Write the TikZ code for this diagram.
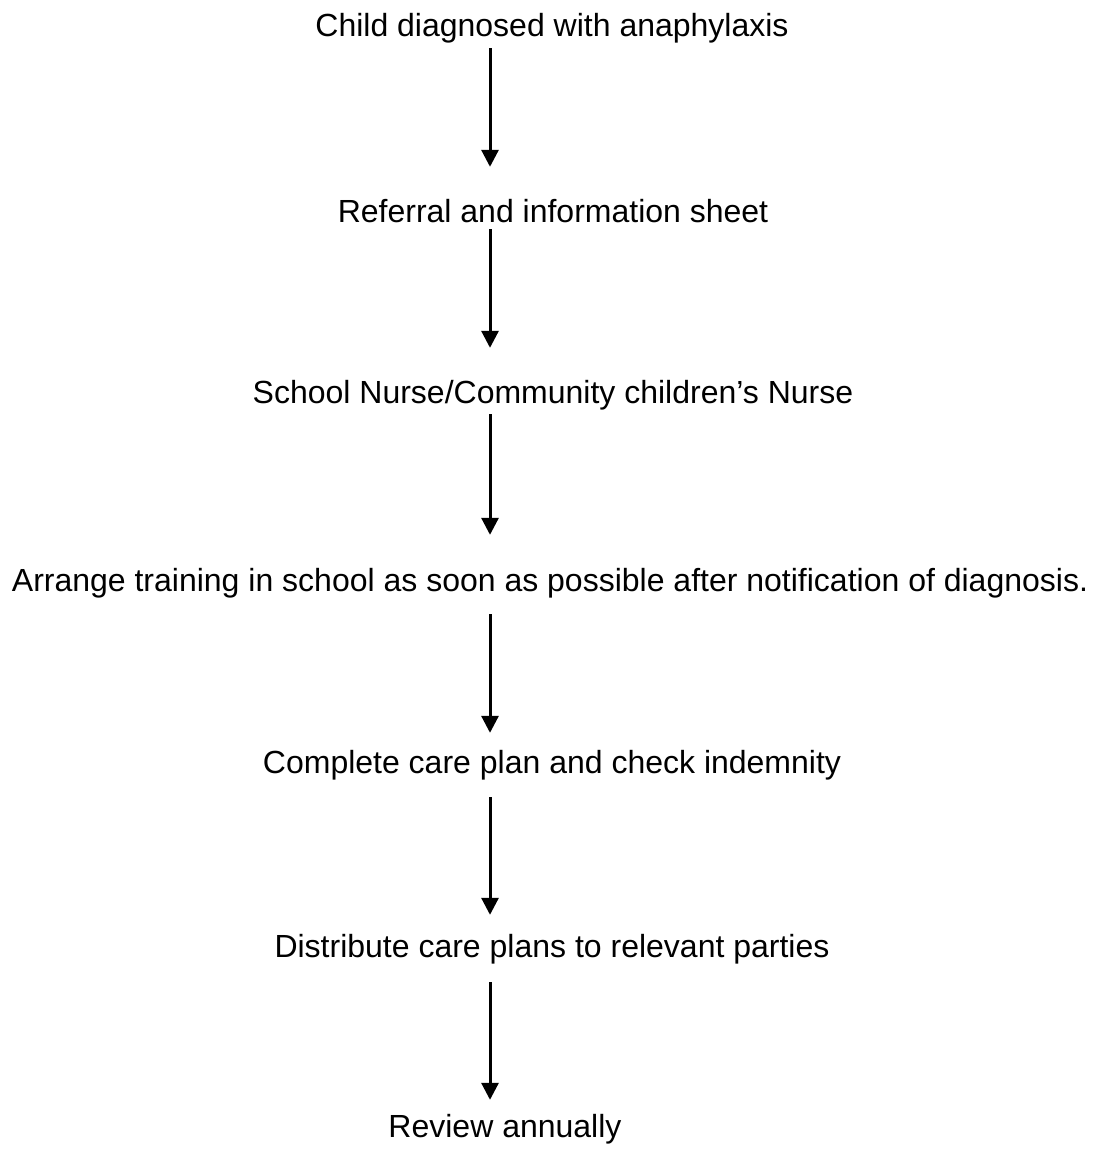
\documentclass[tikz,border=0pt]{standalone}
\usepackage{fontspec}
\setmainfont{Liberation Sans}
\usetikzlibrary{arrows.meta,positioning}

\begin{document}
\begin{tikzpicture}[x=1pt,y=1pt,
  stage/.style={inner sep=0pt,anchor=base,text height=23pt,text depth=7pt,
    font=\fontsize{32}{38}\selectfont},
  flow/.style={line width=3pt,-{Triangle[length=17pt,width=17pt]}}]
  \useasboundingbox (0,0) rectangle (1099,-1149);
  \coordinate (ax) at (490,0);
  % the stages, top to bottom
  \node [stage] (child) at (552,-36) {Child diagnosed with anaphylaxis};
  \node [stage] (referral) at (553,-222) {Referral and information sheet};
  \node [stage] (nurse) at (553,-403) {School Nurse/Community children’s Nurse};
  \node [stage] (training) at (550,-591) {Arrange training in school as soon as possible after notification of diagnosis.};
  \node [stage] (careplan) at (552,-773) {Complete care plan and check indemnity};
  \node [stage] (distribute) at (552,-957) {Distribute care plans to relevant parties};
  \node [stage] (review) at (505,-1137) {Review annually};
  % arrows, all on one vertical line
  \draw [flow,shorten <=5pt,shorten >=32pt] (child.south -| ax) -- (referral.north -| ax);
  \draw [flow,shorten >=32pt] (referral.south -| ax) -- (nurse.north -| ax);
  \draw [flow,shorten <=4pt,shorten >=33pt] (nurse.south -| ax) -- (training.north -| ax);
  \draw [flow,shorten <=16pt,shorten >=17pt] (training.south -| ax) -- (careplan.north -| ax);
  \draw [flow,shorten <=17pt,shorten >=19pt] (careplan.south -| ax) -- (distribute.north -| ax);
  \draw [flow,shorten <=18pt,shorten >=14pt] (distribute.south -| ax) -- (review.north -| ax);
\end{tikzpicture}
\end{document}
